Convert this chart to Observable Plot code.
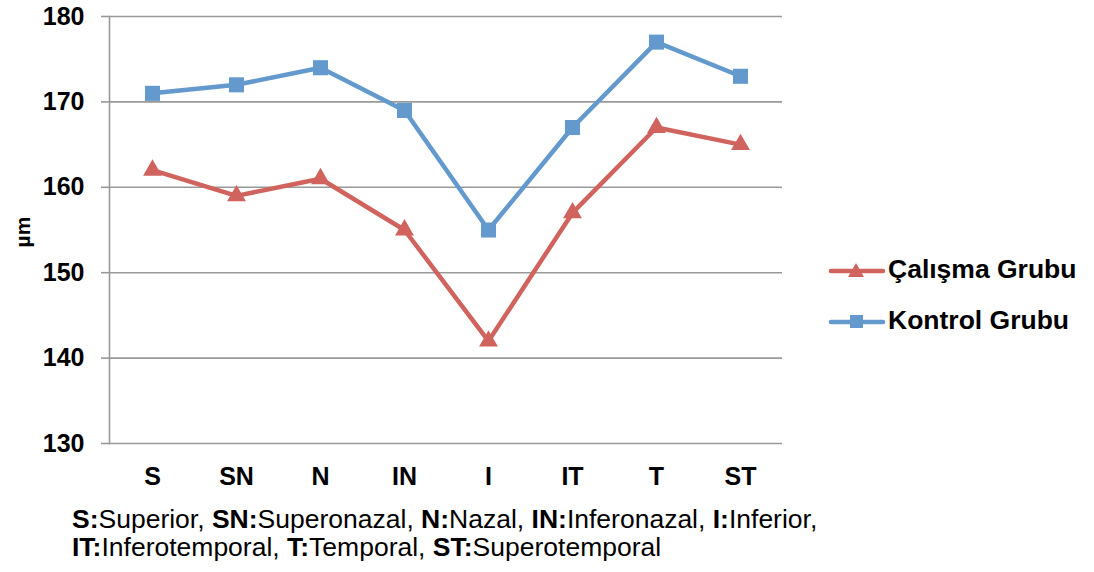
<!DOCTYPE html>
<html>
<head>
<meta charset="utf-8">
<script src="https://cdn.jsdelivr.net/npm/d3@7"></script>
<script src="https://cdn.jsdelivr.net/npm/@observablehq/plot@0.6"></script>
<style>
  html, body { margin: 0; padding: 0; background: #fff; }
  body { width: 1094px; height: 572px; position: relative; overflow: hidden; font-family: "Liberation Sans", Arial, sans-serif; }
  #chart { position: absolute; left: 0; top: 0; }
  #legend { position: absolute; left: 828px; top: 244px; font-weight: bold; font-size: 26.5px; color: #000; white-space: nowrap; }
  #legend .item { display: flex; align-items: center; height: 51px; }
  #legend svg { margin-right: 2px; }
  #caption { position: absolute; left: 72px; top: 505px; font-size: 26.5px; line-height: 28px; color: #000; white-space: nowrap; }
  #ylabel { position: absolute; left: 8px; top: 220px; font-weight: bold; font-size: 21px; transform: rotate(-90deg); transform-origin: center; }
</style>
</head>
<body>
<div id="chart"></div>
<div id="legend"></div>
<div id="caption"></div>
<script>
const categories = ["S", "SN", "N", "IN", "I", "IT", "T", "ST"];
const calisma = [162, 159, 161, 155, 142, 157, 167, 165];
const kontrol = [171, 172, 174, 169, 155, 167, 177, 173];
const yTicks = [130, 140, 150, 160, 170, 180];
const seriesNames = ["Çalışma Grubu", "Kontrol Grubu"];
const seriesColors = ["#d0635d", "#6399cc"];
const captionParts = [
  [["S:", "Superior, "], ["SN:", "Superonazal, "], ["N:", "Nazal, "], ["IN:", "Inferonazal, "], ["I:", "Inferior,"]],
  [["IT:", "Inferotemporal, "], ["T:", "Temporal, "], ["ST:", "Superotemporal"]]
];

const rowsC = categories.map((c, i) => ({cat: c, v: calisma[i]}));
const rowsK = categories.map((c, i) => ({cat: c, v: kontrol[i]}));

const plot = Plot.plot({
  width: 1094,
  height: 500,
  marginLeft: 109,
  marginRight: 312,
  marginTop: 16,
  marginBottom: 57,
  style: {fontFamily: "Liberation Sans, Arial, sans-serif", background: "transparent"},
  x: {type: "point", domain: categories, padding: 0.5, label: null},
  y: {domain: [130, 180], label: null},
  marks: [
    Plot.ruleY(yTicks, {stroke: "#999", strokeWidth: 1.6}),
    Plot.frame({anchor: "left", stroke: "#999", strokeWidth: 1.6}),
    Plot.axisY({ticks: yTicks, tickSize: 8, tickPadding: 17, stroke: "#999", strokeWidth: 1.6, fontSize: 25, fontWeight: "bold", fill: "#000", label: null}),
    Plot.axisX({tickSize: 0, tickPadding: 24, fontSize: 25, fontWeight: "bold", fill: "#000", label: null}),
    Plot.line(rowsK, {x: "cat", y: "v", stroke: seriesColors[1], strokeWidth: 4.5}),
    Plot.line(rowsC, {x: "cat", y: "v", stroke: seriesColors[0], strokeWidth: 4.5}),
    Plot.dot(rowsK, {x: "cat", y: "v", symbol: "square", r: 8.5, fill: seriesColors[1], stroke: "none"}),
    Plot.dot(rowsC, {x: "cat", y: "v", symbol: "triangle", r: 7, fill: seriesColors[0], stroke: "none"})
  ]
});
d3.select(plot).selectAll("g[aria-label$='tick label']").attr("font-size", 25).style("font-size", "25px").attr("font-weight", "bold");
document.getElementById("chart").appendChild(plot);

// y label
const yl = document.createElement("div");
yl.id = "ylabel";
yl.textContent = "µm";
document.body.appendChild(yl);

// legend
const legend = document.getElementById("legend");
seriesNames.forEach((name, i) => {
  const item = document.createElement("div");
  item.className = "item";
  const sym = i === 0
    ? `<polygon points="28,3 36,17 20,17" fill="${seriesColors[i]}"/>`
    : `<rect x="22" y="4" width="13" height="13" fill="${seriesColors[i]}"/>`;
  item.innerHTML = `<svg width="58" height="20"><line x1="3" y1="11" x2="55" y2="11" stroke="${seriesColors[i]}" stroke-width="4.5" stroke-linecap="round"/>${sym}</svg><span>${name}</span>`;
  legend.appendChild(item);
});

// caption
const cap = document.getElementById("caption");
captionParts.forEach(line => {
  const div = document.createElement("div");
  line.forEach(([a, b]) => {
    const s = document.createElement("b"); s.textContent = a; div.appendChild(s);
    div.appendChild(document.createTextNode(b));
  });
  cap.appendChild(div);
});
</script>
</body>
</html>
